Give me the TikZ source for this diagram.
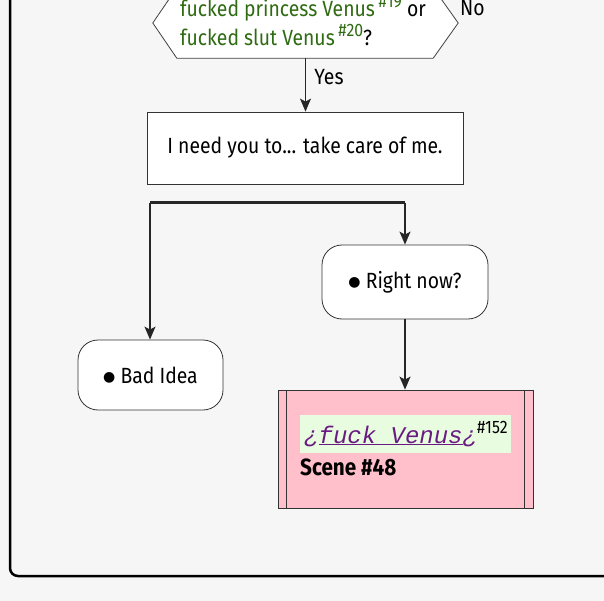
\documentclass[tikz,border=0pt]{standalone}
\usepackage{fontspec}
\setmainfont{Fira Sans}[FakeStretch=0.88]
\setmonofont{Liberation Mono}
\newfontfamily\dotfont{DejaVu Sans}
\usetikzlibrary{arrows.meta}
\definecolor{pagebg}{HTML}{F6F6F6}
\definecolor{venusgreen}{HTML}{2E6B12}
\definecolor{linkpurple}{HTML}{6A1B82}
\definecolor{scenepink}{HTML}{FFC0CB}
\definecolor{linkbg}{HTML}{E8FCE0}
\newcommand{\supnum}[1]{\raisebox{0.42em}{\fontsize{18}{18}\selectfont #1}}
\newcommand{\bigdot}{\raisebox{2pt}{\dotfont\fontsize{14}{14}\selectfont ●}}

\begin{document}
\begin{tikzpicture}[
  x=1pt, y=-1pt, >={Stealth[length=13pt, width=11pt, inset=3pt]},
  every node/.style={font=\fontsize{22}{26}\selectfont},
  flow/.style={->, line width=1.3pt, draw=black!85},
  actbox/.style={draw=black!80, fill=white, line width=0.8pt,
                 rounded corners=20pt, inner sep=0pt},
  plainbox/.style={draw=black!80, fill=white, line width=0.8pt, inner sep=0pt}
]
  \fill[pagebg] (0,0) rectangle (604,601);
  \useasboundingbox (0,0) rectangle (604,601);

  % outer frame
  \draw[line width=2.5pt, rounded corners=8pt] (10,-20) -- (10,576) -- (624,576);

  % question
  \node[inner sep=0pt, minimum width=305pt, minimum height=70pt] (q) at (305.5,23) {};
  \draw[fill=white, draw=black!75, line width=0.8pt]
    (q.west) -- ([xshift=24pt]q.north west) -- ([xshift=-25pt]q.north east)
    -- (q.east) -- ([xshift=-25pt]q.south east) -- ([xshift=24pt]q.south west) -- cycle;
  \node[anchor=base west, inner sep=0pt] (qline1) at (180,17)
    {\textcolor{venusgreen}{fucked princess Venus\,\supnum{\#19}} or};
  \node[anchor=base west, inner sep=0pt] (qline2) at (180,46)
    {\textcolor{venusgreen}{fucked slut Venus\,\supnum{\#20}}?};
  \node[anchor=base west, inner sep=0pt] (no) at (460,16) {No};

  \node[plainbox, minimum width=316pt, minimum height=72pt] (care) at (305,148)
    {I need you to... take care of me.};
  \draw[flow] (q.south) -- node[pos=0.35, right=5pt] {Yes} (care.north -| q.south);

  % fork
  \coordinate (barl) at (150,203);
  \coordinate (barr) at (405,203);
  \draw[line width=3pt, black!85] (barl) -- (barr);

  \node[actbox, minimum width=166pt, minimum height=74pt] (now) at (405,282)
    {\bigdot\ Right now?};
  \node[actbox, minimum width=145pt, minimum height=70pt] (bad) at (150.5,375)
    {\bigdot\ Bad Idea};
  \draw[flow] (barl) -- (bad.north -| barl);
  \draw[flow] (barr) -- (now.north);

  % scene
  \node[draw=black!80, fill=scenepink, line width=0.8pt, inner sep=0pt,
        minimum width=255pt, minimum height=118pt] (scene) at (405.5,449) {};
  \draw[black!80, line width=0.8pt] ([xshift=9pt]scene.north west) -- ([xshift=9pt]scene.south west);
  \draw[black!80, line width=0.8pt] ([xshift=-9pt]scene.north east) -- ([xshift=-9pt]scene.south east);
  \draw[flow] (now.south) -- (scene.north -| now.south);
  \node[fill=linkbg, anchor=north west, inner sep=0pt,
        minimum width=211pt, minimum height=38pt] (link) at (300,415) {};
  \node[anchor=base west, inner sep=0pt] (linktext) at (304,443)
    {\textcolor{linkpurple}{\fontsize{24}{26}\selectfont\ttfamily\itshape
      ¿\underline{fuck Venus}¿}\supnum{\#152}};
  \node[anchor=base west, inner sep=0pt, font=\fontsize{23.5}{26}\selectfont\bfseries]
    (scenename) at (300,475) {Scene \#48};
\end{tikzpicture}
\end{document}
